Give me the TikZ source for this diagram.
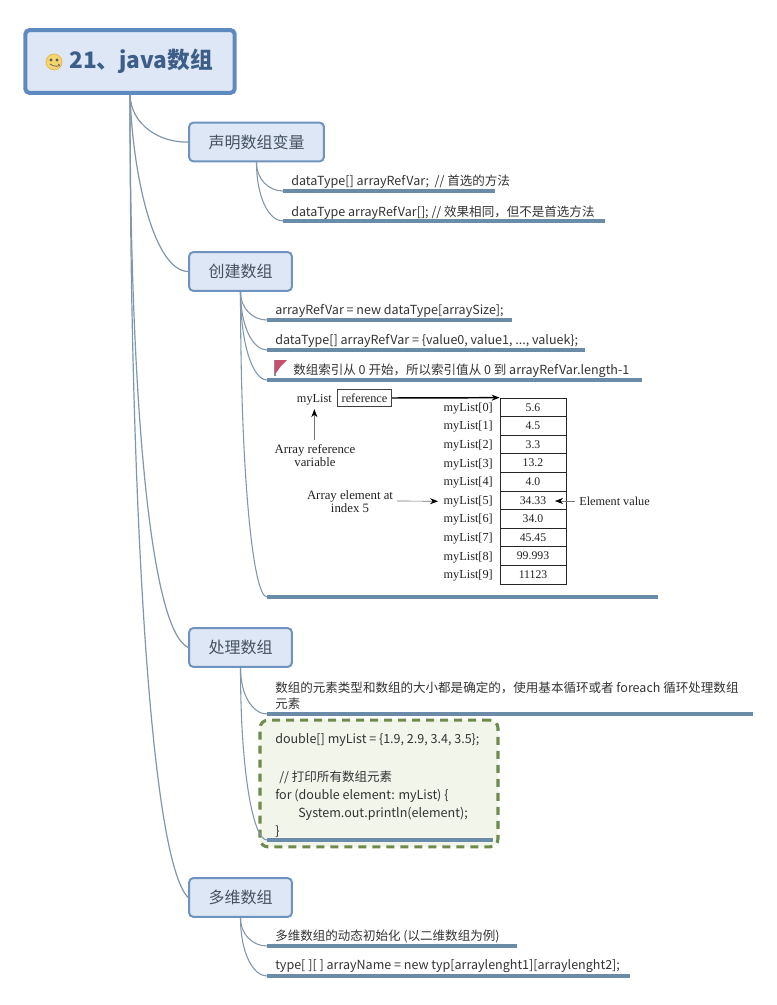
\documentclass[tikz,border=0pt]{standalone}
\usepackage{fontspec}
\setmainfont{Noto Sans CJK SC}
\newfontfamily\figserif{Liberation Serif}
\usetikzlibrary{arrows.meta,calc}
\definecolor{rootline}{HTML}{5F8ABF}
\definecolor{rootfill}{HTML}{DDE7F5}
\definecolor{titleink}{HTML}{3E5E8A}
\definecolor{topicline}{HTML}{6F93BF}
\definecolor{topicink}{HTML}{46525F}
\definecolor{branch}{HTML}{7F97AB}
\definecolor{under}{HTML}{6A8CA8}
\definecolor{bodyink}{HTML}{333333}
\definecolor{codefill}{HTML}{F2F5EA}
\definecolor{codeline}{HTML}{6E8A4C}
\definecolor{figink}{HTML}{222222}
\definecolor{flagred}{HTML}{C8506E}
\definecolor{smileface}{HTML}{F4D56F}
\definecolor{smileedge}{HTML}{E3BC5A}
\tikzset{
  rootbox/.style={draw=rootline,fill=rootfill,line width=3pt,rounded corners=3pt,minimum width=157pt,minimum height=47pt,inner sep=0pt},
  topicbox/.style={draw=topicline,fill=rootfill,line width=1.5pt,rounded corners=3pt,minimum height=29pt,inner sep=0pt,text=topicink,font=\fontsize{12pt}{14pt}\selectfont},
  branchline/.style={draw=branch,line width=0.8pt},
  trunkline/.style={draw=branch,line width=0.9pt},
  underline/.style={draw=under,line width=2.3pt},
  leaf/.style={anchor=west,inner sep=0pt,yshift=-1.1pt,text=bodyink,font=\fontsize{9.4pt}{11pt}\selectfont},
  figtext/.style={inner sep=0pt,text=figink,font=\figserif\fontsize{9.2pt}{9.6pt}\selectfont,align=center},
  cell/.style={draw=black!85,line width=0.5pt,minimum width=49.5pt,minimum height=13.95pt,inner sep=0pt,text=figink,font=\figserif\fontsize{8.8pt}{9.6pt}\selectfont},
  figarrow/.style={draw=black!55,line width=0.5pt,-{Stealth[length=6pt,width=4.5pt,black]}}
}
\begin{document}
\begin{tikzpicture}[x=0.75pt,y=-0.75pt]
\useasboundingbox (0,0) rectangle (776,1005);

% code panel first, so that the branch runs over it
\node[draw=codeline,fill=codefill,line width=2.3pt,dash pattern=on 6pt off 4.5pt,rounded corners=6pt,minimum width=178.5pt,minimum height=95pt,inner sep=0pt] (panel) at (379,783.5) {};

% topics
\node[rootbox] (root) at (130,61.5) {};
\node[inner sep=0pt,anchor=west,text=titleink,font=\bfseries\fontsize{17pt}{20pt}\selectfont] (title) at (69,61) {21、java数组};
\coordinate (smile) at (54,62);
\filldraw[fill=smileface,draw=smileedge,line width=0.6pt] (smile) circle (8);
\fill[black!65] (smile) ++(-3,-2) circle (1.6) ++(6,0) circle (1.6);
\draw[black!65,line width=0.5pt] (smile) ++(-4,2) .. controls +(2,3) and +(6,3) .. +(8,0);

\node[topicbox,minimum width=101pt] (t1) at (256.5,142) {声明数组变量};
\node[topicbox,minimum width=77pt] (t2) at (240.5,271.5) {创建数组};
\node[topicbox,minimum width=77pt] (t3) at (240.5,647.5) {处理数组};
\node[topicbox,minimum width=77pt] (t4) at (240.5,897.5) {多维数组};

% trunk branches
\draw[trunkline] (root.south) .. controls (131,125) and (160,143) .. (t1.west);
\draw[trunkline] (root.south) .. controls (133,180) and (155,271) .. (t2.west);
\draw[trunkline] (root.south) .. controls (130,400) and (150,630) .. (t3.west);
\draw[trunkline] (root.south) .. controls (130,500) and (150,860) .. (t4.west);

% leaf rules
\foreach \nm/\xa/\xb/\yy in {a/283/495/191,b/283/605/221,c/267/512/320,d/267/585/350,e/267/642/380,f/267/658/597,g/267/753/714,h/267/493/840,i/267/517/946,j/267/630/976}{
  \coordinate (\nm s) at (\xa,\yy);
  \coordinate (\nm e) at (\xb,\yy);
  \draw[underline] (\nm s) -- (\nm e);
}

% leaf branches
\foreach \pp/\kid in {t1/a,t1/b,t2/c,t2/d,t2/e,t2/f,t3/g,t3/h,t4/i,t4/j}{
  \draw[branchline] (\pp.south) .. controls ($(\pp.south)!0.6!(\pp.south |- \kid s)$) and ($(\kid s)+(-14,0)$) .. (\kid s);
}

% leaf texts
\node[leaf] (la) at (291,180) {dataType[] arrayRefVar;\ \ // 首选的方法};
\node[leaf] (lb) at (291,211) {dataType arrayRefVar[];\ // 效果相同，但不是首选方法};
\node[leaf] (lc) at (275,309) {arrayRefVar = new dataType[arraySize];};
\node[leaf] (ld) at (275,339) {dataType[] arrayRefVar = \{value0, value1, ..., valuek\};};
\node[leaf] (le) at (293,369) {数组索引从 0 开始，所以索引值从 0 到 arrayRefVar.length-1};
\coordinate (flag) at (275,360);
\draw[black!45,line width=0.8pt] (flag) -- +(0,16);
\fill[flagred] (flag) -- +(12,0) -- +(6,6) -- +(1,13) -- +(0,13) -- cycle;

\node[leaf,align=left] (lg) at (275,694) {数组的元素类型和数组的大小都是确定的，使用基本循环或者 foreach 循环处理数组\\[1pt]元素};

\node[leaf] (code1) at (275,739) {double[] myList = \{1.9, 2.9, 3.4, 3.5\};};
\node[leaf] (code2) at (279,776) {// 打印所有数组元素};
\node[leaf] (code3) at (275,794) {for (double element: myList) \{};
\node[leaf] (code4) at (298,812) {System.out.println(element);};
\node[leaf] (code5) at (275,830) {\}};

\node[leaf] (li) at (275,935) {多维数组的动态初始化 (以二维数组为例)};
\node[leaf] (lj) at (275,965) {type[ ][ ] arrayName = new typ[arraylenght1][arraylenght2];};

% array figure
\foreach \i/\v in {0/5.6,1/4.5,2/3.3,3/13.2,4/4.0,5/34.33,6/34.0,7/45.45,8/99.993,9/11123}{
  \node[cell] (c\i) at (533,{407.3+\i*18.6}) {\v};
  \node[figtext,anchor=east] (n\i) at (493,{408.3+\i*18.6}) {myList[\i]};
}
\node[draw=black!75,line width=0.6pt,minimum width=41pt,minimum height=12.5pt,inner sep=0pt,figtext] (ref) at (364.5,398) {reference};
\node[figtext,anchor=east] (my) at (332,399.5) {myList};
\draw[draw=black,line width=1.1pt,-{Stealth[length=6pt,width=4.5pt]}] (ref.east) -- (c0.north west);
\node[figtext,font=\figserif\fontsize{9.6pt}{9.8pt}\selectfont] (arv) at (315,455.5) {Array reference\\variable};
\draw[figarrow] (arv.north -| my.south) ++(0,-4) -- ($(my.south)+(0,4)$);
\node[figtext,font=\figserif\fontsize{9.6pt}{9.8pt}\selectfont] (aei) at (350,502) {Array element at\\index 5};
\coordinate (aeis) at (397,501);
\draw[figarrow,shorten >=4pt] (aeis) -- (n5.west);
\node[figtext,anchor=west] (ev) at (579,501) {Element value};
\coordinate (evs) at (575,501);
\coordinate (evt) at (555,501);
\draw[figarrow] (evs) -- (evt);
\end{tikzpicture}
\end{document}
